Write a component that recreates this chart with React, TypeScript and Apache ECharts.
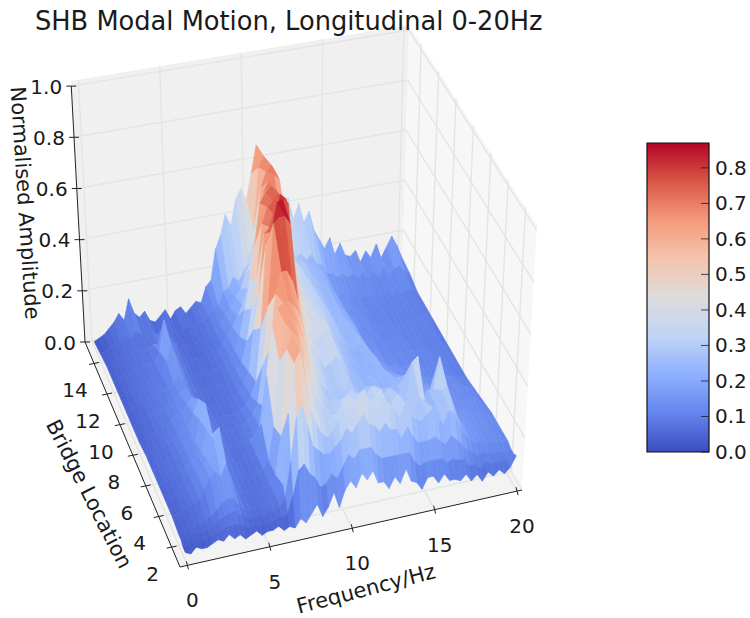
import React, { useEffect, useRef } from "react";
import * as echarts from "echarts";

const titleText = "SHB Modal Motion, Longitudinal 0-20Hz";
const freqTicks = [0, 5, 10, 15, 20];
const locTicks = [2, 4, 6, 8, 10, 12, 14];
const ampTicks = [0, 0.2, 0.4, 0.6, 0.8, 1.0];
const barTicks = [0, 0.1, 0.2, 0.3, 0.4, 0.5, 0.6, 0.7, 0.8];
const barMax = 0.87;

// Row locations (bridge location); amplitudes in hundredths, columns every 1/3 Hz from 0 to 20 Hz
const rowLocations = [15, 14, 13, 12, 11, 10, 9, 8, 7, 6, 5, 4, 3, 2, 1.66, 1.33, 1];
const amp15 = [2,3,4,6,8,11,8,16,10,8, 10,6,5,7,9,5,8,9,6,8, 10,9,15,17,29,34,42,37,47,51, 46,56,67,54,36,34,37,41,44,35, 41,33,37,29,25,21,25,18,22,17, 16,18,13,17,14,19,13,17,21,17,12];
const amp14 = [3,4,5,6,6,8,7,9,8,7, 8,6,6,7,6,5,6,7,6,8, 8,10,12,13,18,19,23,21,25,30, 40,64,68,64,44,32,28,30,26,27, 24,26,22,21,17,17,15,16,14,15, 13,15,12,14,12,15,12,14,15,12,11];
const amp13 = [4,5,5,7,6,8,8,7,8,9, 9,15,11,9,6,7,5,6,7,7, 8,9,11,15,17,21,24,30,34,44, 62,68,70,66,46,38,32,29,30,26, 25,23,23,19,16,14,15,12,13,11, 12,11,12,10,11,10,12,10,11,10,9];
const amp12 = [4,5,6,6,8,7,8,9,8,12, 24,14,10,8,7,6,7,6,7,8, 8,10,13,16,20,24,30,38,50,66, 70,72,70,56,44,36,34,30,28,27, 24,25,21,20,15,14,14,12,13,11, 11,12,10,11,11,10,11,10,10,10,9];
const amp11 = [4,5,6,7,7,8,9,8,9,14, 20,14,10,8,7,6,7,7,7,8, 9,11,13,18,28,38,52,68,72,74, 72,60,46,40,36,34,34,31,28,25, 23,25,21,20,15,15,12,14,11,12, 10,12,11,11,10,11,10,11,10,10,9];
const amp10 = [4,5,6,7,8,8,9,10,10,12, 14,12,9,8,7,7,6,8,7,8, 9,11,14,22,34,46,66,72,74,76, 74,56,44,38,36,34,32,31,29,25, 24,24,22,21,16,13,14,12,13,11, 12,11,12,10,11,11,10,10,11,9,9];
const amp9 = [4,6,5,7,8,9,8,10,11,13, 15,12,9,8,7,7,7,7,8,8, 9,12,16,32,46,68,70,74,82,80, 60,48,42,38,36,33,33,29,28,25, 23,27,23,21,17,13,15,12,13,11, 13,11,12,11,11,11,10,10,10,10,9];
const amp8 = [4,6,6,7,9,8,10,12,11,15, 17,13,10,9,8,7,8,7,8,9, 10,13,18,38,70,74,85,86,84,60, 48,44,40,38,38,34,30,28,27,25, 22,24,25,22,18,16,15,13,14,12, 13,12,12,11,11,12,10,11,10,10,9];
const amp7 = [5,6,6,7,8,9,10,13,12,17, 22,13,10,9,8,8,7,9,9,10, 12,16,30,52,83,85,85,82,54,46, 42,38,34,38,40,33,30,26,24,23, 22,21,24,24,20,18,17,16,15,15, 14,13,13,12,12,11,12,11,10,10,9];
const amp6 = [5,6,7,7,8,10,11,15,12,20, 26,14,10,9,8,7,8,8,9,10, 13,20,42,62,70,70,66,58,48,42, 38,34,30,32,34,32,28,25,25,22, 24,23,23,24,23,21,21,19,18,17, 16,16,14,15,14,13,14,13,12,12,10];
const amp5 = [5,6,7,7,8,9,11,14,14,22, 20,14,10,9,8,7,8,8,9,20, 38,56,62,64,64,62,58,50,44,36, 30,28,26,28,27,30,26,24,26,22, 26,24,22,25,24,26,28,21,18,18, 20,15,15,14,14,14,13,13,13,12,11];
const amp4 = [5,5,6,7,8,10,12,16,16,24, 28,14,9,8,8,7,7,8,9,12, 24,48,62,64,62,56,48,40,34,30, 28,30,29,30,32,30,28,30,32,27, 28,30,25,28,22,38,40,22,26,26, 38,22,18,16,15,15,14,14,13,13,12];
const amp3 = [5,5,6,7,8,9,12,16,18,16, 20,13,9,8,7,7,8,8,9,12, 26,58,64,62,54,46,40,35,32,30, 30,34,36,32,35,37,32,34,36,31, 30,33,28,30,26,30,28,24,26,31, 32,26,20,17,16,15,14,14,13,13,12];
const amp2 = [4,5,5,6,6,7,8,10,12,13, 13,10,8,7,7,7,8,8,9,14, 40,58,62,52,40,34,30,28,30,33, 37,36,39,41,38,36,34,39,34,33, 30,35,30,28,27,29,31,26,24,29, 27,22,18,16,14,15,13,13,13,12,12];
const amp166 = [4,4,5,5,5,6,7,8,9,10, 10,8,7,6,6,6,7,7,8,11, 24,40,44,36,28,26,24,24,26,28, 32,30,33,36,32,31,28,31,28,28, 24,28,24,21,21,21,22,20,18,21, 19,17,14,13,11,12,11,11,11,10,11];
const amp133 = [3,4,4,4,4,5,6,6,7,7, 7,6,5,5,5,5,5,6,6,7, 13,22,24,20,18,14,15,18,16,20, 24,22,25,25,25,22,20,20,20,20, 20,20,16,14,15,15,15,15,13,14, 13,13,10,10,8,10,9,9,9,9,11];
const amp1 = [3,2,4,3,3,4,5,4,6,4, 5,3,4,5,3,4,4,5,3,4, 3,6,4,7,10,5,8,13,7,13, 16,13,18,15,18,13,13,10,14,11, 16,11,10,7,11,11,8,11,8,8, 7,9,6,8,5,8,6,8,6,8,12];
const ampRows = [amp15, amp14, amp13, amp12, amp11, amp10, amp9, amp8, amp7, amp6, amp5, amp4, amp3, amp2, amp166, amp133, amp1];
const freqStep = 1 / 3;

const font = "'DejaVu Sans', sans-serif";

// Scene box: screen positions of the corners of the 3D axes box
const fLim = [-0.45, 20.3];
const lLim = [0.7, 15.4];
const zTop = 1.02;
const floorBox = { left: [85, 342], front: [180, 567], right: [522, 490], back: [402, 280] };
const topBox = { left: [71, 81], front: [174, 285], right: [537, 225], back: [409, 25] };

function project(f: number, l: number, z: number): number[] {
  const a = (f - fLim[0]) / (fLim[1] - fLim[0]);
  const t = (lLim[1] - l) / (lLim[1] - lLim[0]);
  const u = z / zTop;
  const bil = (b: any, k: number) =>
    (1 - a) * (1 - t) * b.left[k] + (1 - a) * t * b.front[k] + a * t * b.right[k] + a * (1 - t) * b.back[k];
  return [0, 1].map((k) => (1 - u) * bil(floorBox, k) + u * bil(topBox, k));
}

const coolwarmStops = ["#3b4cc0", "#6485ec", "#8db0fe", "#c0d4f5", "#dddcdc", "#f5c4ac", "#f49a7b", "#d95847", "#b40426"];
function hex(c: string) {
  return [1, 3, 5].map((i) => parseInt(c.slice(i, i + 2), 16));
}
function coolwarm(v: number) {
  const p = Math.max(0, Math.min(1, v)) * (coolwarmStops.length - 1);
  const i = Math.min(coolwarmStops.length - 2, Math.floor(p));
  const c0 = hex(coolwarmStops[i]);
  const c1 = hex(coolwarmStops[i + 1]);
  const m = c0.map((c, k) => Math.round(c + (c1[k] - c) * (p - i)));
  return `rgb(${m[0]},${m[1]},${m[2]})`;
}

function buildQuads() {
  const quads: number[][] = [];
  for (let r = 0; r < ampRows.length - 1; r++) {
    for (let c = ampRows[r].length - 2; c >= 0; c--) {
      const mean = (ampRows[r][c] + ampRows[r][c + 1] + ampRows[r + 1][c] + ampRows[r + 1][c + 1]) / 400;
      quads.push([r, c, mean]);
    }
  }
  return quads;
}

function renderQuad(_p: any, api: any) {
  const r = api.value(0);
  const c = api.value(1);
  const mean = api.value(2);
  const pt = (rr: number, cc: number) => project(cc * freqStep, rowLocations[rr], ampRows[rr][cc] / 100);
  const col = coolwarm(mean / barMax);
  return {
    type: "polygon",
    shape: { points: [pt(r, c), pt(r, c + 1), pt(r + 1, c + 1), pt(r + 1, c)] },
    style: { fill: col, stroke: col, lineWidth: 0.6 },
  };
}

function renderFrame() {
  const children: any[] = [];
  const poly = (pts: number[][], fill: string) => children.push({ type: "polygon", shape: { points: pts }, style: { fill } });
  const line = (p: number[], q: number[], stroke: string, w: number) =>
    children.push({ type: "line", shape: { x1: p[0], y1: p[1], x2: q[0], y2: q[1] }, style: { stroke, lineWidth: w } });
  const text = (s: string, x: number, y: number, size: number, deg = 0) =>
    children.push({
      type: "text",
      x,
      y,
      rotation: (deg * Math.PI) / 180,
      style: { text: s, fontSize: size, fontFamily: font, fill: "#1a1a1a", align: "center", verticalAlign: "middle" },
    });
  const [f0, f1] = fLim;
  const [l0, l1] = lLim;
  poly([project(f0, l1, 0), project(f1, l1, 0), project(f1, l1, zTop), project(f0, l1, zTop)], "#f0f0f0");
  poly([project(f1, l1, 0), project(f1, l0, 0), project(f1, l0, zTop), project(f1, l1, zTop)], "#f7f7f7");
  poly([project(f0, l1, 0), project(f0, l0, 0), project(f1, l0, 0), project(f1, l1, 0)], "#f3f3f3");
  const gridCol = "#e4e4e4";
  freqTicks.forEach((f) => {
    line(project(f, l1, 0), project(f, l1, zTop), gridCol, 1.4);
    line(project(f, l1, 0), project(f, l0, 0), gridCol, 1.4);
  });
  locTicks.forEach((l) => {
    line(project(f1, l, 0), project(f1, l, zTop), gridCol, 1.4);
    line(project(f0, l, 0), project(f1, l, 0), gridCol, 1.4);
  });
  ampTicks.forEach((z) => {
    line(project(f0, l1, z), project(f1, l1, z), gridCol, 1.4);
    line(project(f1, l1, z), project(f1, l0, z), gridCol, 1.4);
  });
  const axisCol = "#222";
  line(project(f0, l1, 0), project(f0, l1, 1), axisCol, 1);
  line(project(f0, l1, 0), project(f0, l0, 0), axisCol, 1);
  line(project(f0, l0, 0), project(f1, l0, 0), axisCol, 1);
  const tickSize = 20;
  ampTicks.forEach((z) => {
    const p = project(f0, l1, z);
    line([p[0] - 5, p[1]], [p[0] + 5, p[1]], axisCol, 1);
    text(z.toFixed(1), p[0] - 25, p[1] + 0.5, tickSize);
  });
  locTicks.forEach((l) => {
    const p = project(f0, l, 0);
    line([p[0] - 5, p[1] + 1], [p[0] + 5, p[1] - 1], axisCol, 1);
    text(String(l), p[0] - 19, p[1] + 27, tickSize);
  });
  freqTicks.forEach((f) => {
    const p = project(f, l0, 0);
    line([p[0] - 1, p[1] - 4], [p[0] + 1, p[1] + 4], axisCol, 1);
    text(String(f), p[0] + 5, p[1] + 35, tickSize);
  });
  text("Normalised Amplitude", 25, 203, 21, -86.3);
  text("Bridge Location", 89, 494, 21, -63);
  text("Frequency/Hz", 366, 589, 21, 14.6);
  return { type: "group", children };
}

function renderBar(_p: any, api: any) {
  const p0 = api.coord([0, 0]);
  const p1 = api.coord([1, barMax]);
  const children: any[] = [
    {
      type: "rect",
      shape: { x: p0[0], y: p1[1], width: p1[0] - p0[0], height: p0[1] - p1[1] },
      style: {
        fill: new echarts.graphic.LinearGradient(
          0, 1, 0, 0,
          coolwarmStops.map((color, i) => ({ offset: i / (coolwarmStops.length - 1), color }))
        ),
        stroke: "#111",
        lineWidth: 1.2,
      },
    },
  ];
  barTicks.forEach((v) => {
    const p = api.coord([1, v]);
    children.push({
      type: "line",
      shape: { x1: p[0] - 8, y1: p[1], x2: p[0], y2: p[1] },
      style: { stroke: "rgba(20,20,20,0.75)", lineWidth: 1 },
    });
  });
  return { type: "group", children };
}

export default function App() {
  const ref = useRef<HTMLDivElement>(null);
  useEffect(() => {
    document.body.style.margin = "0";
    const chart = echarts.init(ref.current!, undefined, { renderer: "svg" });
    chart.setOption({
      animation: false,
      backgroundColor: "#fff",
      title: {
        text: titleText,
        left: 30,
        top: 3,
        textStyle: { fontSize: 25.7, fontWeight: "normal", fontFamily: font, color: "#1a1a1a" },
      },
      grid: { left: 647, top: 143, width: 62, height: 309 },
      xAxis: { type: "value", min: 0, max: 1, show: false },
      yAxis: {
        type: "value",
        position: "right",
        min: 0,
        max: barMax,
        interval: 0.1,
        axisLine: { show: false },
        axisTick: { show: false },
        splitLine: { show: false },
        axisLabel: {
          color: "#1a1a1a",
          fontSize: 20,
          fontFamily: font,
          margin: 6,
          formatter: (v: number) => v.toFixed(1),
          showMaxLabel: false,
        },
      },
      series: [
        { type: "custom", coordinateSystem: "none", silent: true, z: 1, data: [[0]], renderItem: renderFrame },
        { type: "custom", coordinateSystem: "none", silent: true, z: 2, data: buildQuads(), renderItem: renderQuad, dimensions: ["r", "c", "m"] },
        { type: "custom", coordinateSystem: "cartesian2d", silent: true, z: 3, data: [[0, 0]], renderItem: renderBar, clip: false },
      ],
    });
    return () => chart.dispose();
  }, []);
  return <div ref={ref} style={{ position: "absolute", left: 0, top: 0, width: 750, height: 618 }} />;
}
